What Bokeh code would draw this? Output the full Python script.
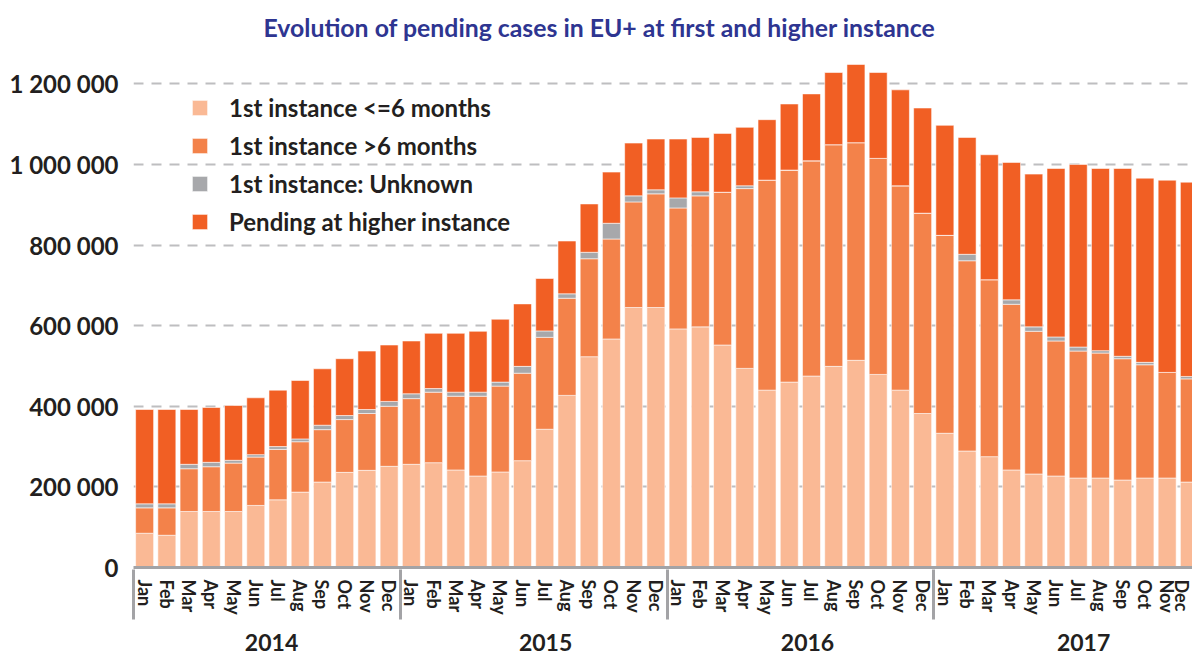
from bokeh.plotting import figure
from bokeh.models import (ColumnDataSource, FixedTicker, LinearAxis, Range1d,
                          Legend, LegendItem)
from bokeh.embed import file_html
from bokeh.resources import INLINE

# ---------------- data ----------------
month_names = ["Jan", "Feb", "Mar", "Apr", "May", "Jun",
               "Jul", "Aug", "Sep", "Oct", "Nov", "Dec"]
years = ["2014", "2015", "2016", "2017"]
months = month_names * len(years)

series_names = ["1st instance <=6 months", "1st instance >6 months",
                "1st instance: Unknown", "Pending at higher instance"]

le6 = [85, 80, 139, 139, 139, 154, 168, 187, 212, 236, 241, 251,
       256, 260, 242, 227, 237, 265, 343, 427, 523, 567, 645, 645,
       592, 597, 552, 494, 440, 460, 475, 499, 514, 479, 440, 382,
       333, 289, 275, 242, 232, 227, 222, 222, 217, 222, 222, 212]
gt6 = [63, 68, 106, 111, 120, 120, 125, 125, 130, 131, 141, 149,
       163, 175, 183, 198, 213, 217, 228, 241, 243, 248, 262, 282,
       300, 325, 379, 446, 521, 526, 534, 550, 540, 536, 507, 497,
       491, 472, 439, 411, 354, 335, 315, 310, 301, 281, 262, 256]
unknown = [10, 10, 11, 11, 7, 6, 7, 7, 11, 10, 10, 12,
           12, 9, 10, 10, 10, 17, 16, 11, 16, 39, 15, 10,
           25, 10, 0, 7, 0, 0, 0, 0, 0, 0, 0, 0,
           0, 16, 0, 11, 11, 10, 10, 6, 6, 6, 0, 6]
higher = [234, 234, 136, 136, 136, 141, 140, 145, 140, 141, 145, 140,
          131, 137, 146, 151, 156, 155, 130, 131, 120, 127, 131, 126,
          146, 135, 146, 145, 150, 164, 166, 179, 194, 213, 238, 261,
          273, 290, 310, 341, 379, 418, 453, 452, 466, 457, 477, 482]

y_ticks = [0, 200000, 400000, 600000, 800000, 1000000, 1200000]
y_tick_labels = ["0", "200 000", "400 000", "600 000", "800 000",
                 "1 000 000", "1 200 000"]

# ---------------- styling ----------------
colors = ["#FAB995", "#F3824A", "#A7A8AB", "#F15F24"]
FONT = "Lato"
TXT = "#231F20"
AXIS_GREY = "#A3A3A6"

idx = list(range(len(months)))
keys = ["le6", "gt6", "unk", "hig"]
src = ColumnDataSource(dict(
    x=idx,
    le6=[v * 1000 for v in le6],
    gt6=[v * 1000 for v in gt6],
    unk=[v * 1000 for v in unknown],
    hig=[v * 1000 for v in higher],
))

p = figure(width=1192, height=653, output_backend="svg", toolbar_location=None,
           x_range=Range1d(-0.5, 47.14), y_range=Range1d(0, 1300000),
           min_border_left=133, min_border_right=0, min_border_top=0,
           min_border_bottom=0)
p.outline_line_color = None
p.background_fill_color = "white"
p.border_fill_color = "white"

renderers = p.vbar_stack(keys, x="x", width=0.81, source=src, color=colors,
                         line_color="white", line_width=0.8, line_alpha=0.7)

# title
p.title.text = "Evolution of pending cases in EU+ at first and higher instance"
p.title.text_font = FONT
p.title.text_font_style = "bold"
p.title.text_font_size = "24.8px"
p.title.text_color = "#2E3591"
p.title.align = "left"
p.title.offset = 130
p.title.standoff = 4
p.title.padding = (0, 0, 8, 0)

# grid
p.xgrid.visible = False
p.ygrid.ticker = FixedTicker(ticks=y_ticks[1:])
p.ygrid.grid_line_color = "#BEBEC0"
p.ygrid.grid_line_width = 2.2
p.ygrid.grid_line_dash = "10 8"

# y axis
ya = p.yaxis[0]
ya.ticker = FixedTicker(ticks=y_ticks)
ya.major_label_overrides = {t: l for t, l in zip(y_ticks, y_tick_labels)}
ya.axis_line_color = None
ya.major_tick_line_color = None
ya.minor_tick_line_color = None
ya.major_tick_out = 0
ya.major_tick_in = 0
ya.minor_tick_out = 0
ya.minor_tick_in = 0
ya.major_label_standoff = 15
ya.major_label_text_font = FONT
ya.major_label_text_font_style = "bold"
ya.major_label_text_font_size = "24px"
ya.major_label_text_color = TXT

# month axis
xa = p.xaxis[0]
xa.ticker = FixedTicker(ticks=idx)
xa.major_label_overrides = {i: m for i, m in zip(idx, months)}
xa.major_label_orientation = "vertical"
xa.axis_line_color = AXIS_GREY
xa.axis_line_width = 3
xa.major_tick_line_color = None
xa.minor_tick_line_color = None
xa.major_tick_out = 0
xa.major_tick_in = 0
xa.minor_tick_out = 0
xa.minor_tick_in = 0
xa.major_label_standoff = 12
xa.major_label_text_font = FONT
xa.major_label_text_font_style = "bold"
xa.major_label_text_font_size = "18px"
xa.major_label_text_color = TXT

# year axis (its inward minor ticks draw the year separators)
year_pos = [5.71, 18.04, 29.82, 42.24]
yr = LinearAxis(ticker=FixedTicker(ticks=year_pos,
                                   minor_ticks=[-0.5, 11.5, 23.5, 35.5]))
yr.major_label_overrides = {t: y for t, y in zip(year_pos, years)}
yr.axis_line_color = None
yr.major_tick_line_color = None
yr.major_tick_out = 0
yr.major_tick_in = 0
yr.minor_tick_line_color = AXIS_GREY
yr.minor_tick_line_width = 3
yr.minor_tick_in = 48
yr.minor_tick_out = 2
yr.major_label_standoff = 14
yr.major_label_text_font = FONT
yr.major_label_text_font_style = "bold"
yr.major_label_text_font_size = "23px"
yr.major_label_text_color = TXT
p.add_layout(yr, "below")

# legend
items = [LegendItem(label=n, renderers=[r]) for n, r in zip(series_names, renderers)]
leg = Legend(items=items, location=(57, 331), orientation="vertical")
leg.background_fill_alpha = 0
leg.border_line_color = None
leg.padding = 0
leg.margin = 0
leg.glyph_width = 19
leg.glyph_height = 19
leg.label_standoff = 20
leg.label_height = 28
leg.spacing = 9
leg.label_text_font = FONT
leg.label_text_font_style = "bold"
leg.label_text_font_size = "24px"
leg.label_text_color = TXT
p.add_layout(leg, "center")

open("out.html", "w").write(file_html(p, INLINE))
